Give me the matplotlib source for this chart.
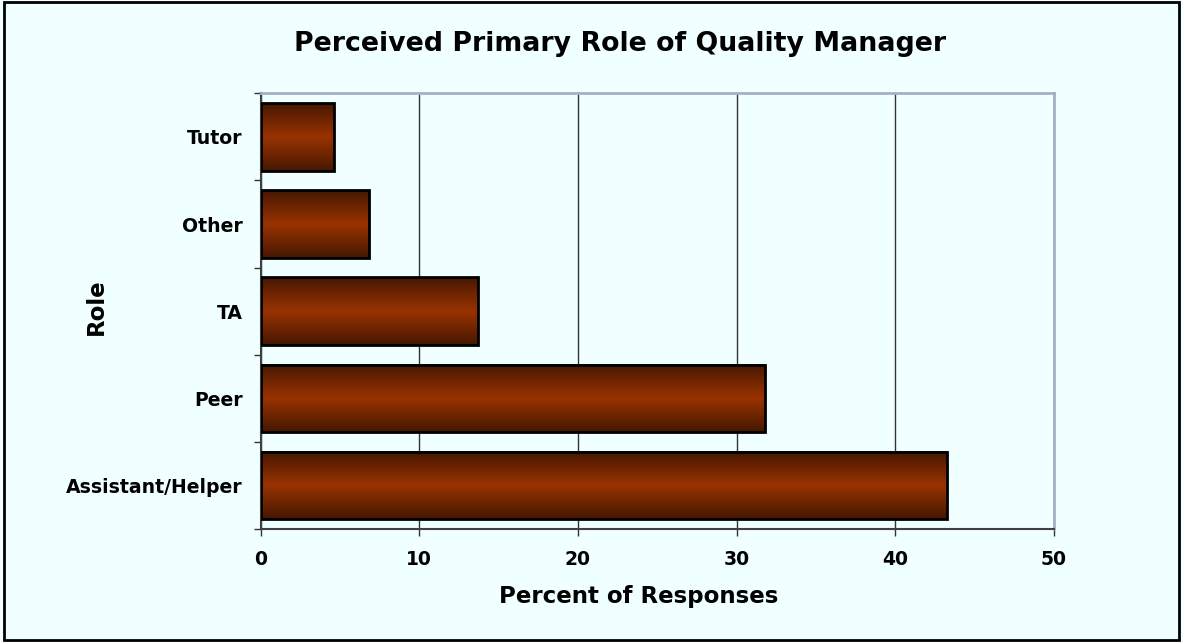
"""Perceived primary role of quality manager - horizontal bar chart."""

import matplotlib

matplotlib.use("Agg")
import matplotlib.pyplot as plt
import numpy as np
from matplotlib.colors import LinearSegmentedColormap
from matplotlib.patches import Rectangle

roles = ["Assistant/Helper", "Peer", "TA", "Other", "Tutor"]
percent = [43.3, 31.8, 13.7, 6.8, 4.6]
x_ticks = [0, 10, 20, 30, 40, 50]

BG = "#f0ffff"

plt.rcParams["font.family"] = ["DejaVu Sans"]
plt.rcParams["font.weight"] = "bold"

fig = plt.figure(figsize=(11.83, 6.42), dpi=100, facecolor=BG)
ax = fig.add_axes([0.2204, 0.176, 0.6703, 0.6787], facecolor=BG)

# outer chart border
fig.patches.append(
    Rectangle((0.0035, 0.003), 0.993, 0.994, transform=fig.transFigure,
              fill=False, edgecolor="black", linewidth=2)
)

# bars with vertical dark-light-dark gradient
bar_cmap = LinearSegmentedColormap.from_list(
    "brown_grad", ["#451700", "#993300", "#451700"]
)
grad = np.linspace(0, 1, 256).reshape(-1, 1)
bar_h = 0.775
y_pos = np.arange(len(roles))
for y, v in zip(y_pos, percent):
    ax.imshow(grad, extent=[0, v, y - bar_h / 2, y + bar_h / 2],
              aspect="auto", cmap=bar_cmap, zorder=2, interpolation="bilinear")
ax.barh(y_pos, percent, height=bar_h, fill=False, edgecolor="black",
        linewidth=2, zorder=3)

ax.set_xlim(0, 50)
ax.set_ylim(-0.5, len(roles) - 0.5)

# gridlines
ax.set_xticks(x_ticks)
ax.xaxis.grid(True, color="#333333", linewidth=1)
ax.set_axisbelow(True)

# y ticks at category boundaries, labels centred on bars
ax.set_yticks(np.arange(-0.5, len(roles), 1.0))
ax.set_yticklabels([])
ax.set_yticks(y_pos, minor=True)
ax.set_yticklabels(roles, minor=True, fontsize=13.6, fontweight="bold")
ax.tick_params(axis="y", which="minor", length=0, pad=13)
ax.tick_params(axis="y", which="major", length=5, width=1, color="#333333")
ax.tick_params(axis="x", length=5, width=1, color="#333333", pad=10,
               labelsize=13.5)
for lab in ax.get_xticklabels():
    lab.set_fontweight("bold")

for side in ("left", "bottom"):
    ax.spines[side].set_color("#404040")
    ax.spines[side].set_linewidth(1.5)
for side in ("top", "right"):
    ax.spines[side].set_color("#a6b0c4")
    ax.spines[side].set_linewidth(2)

ax.set_xlabel("Percent of Responses", fontsize=16.5, fontweight="bold")
ax.xaxis.set_label_coords(0.4764, -0.156)
ax.xaxis.label.set_va("center")
ax.set_ylabel("Role", fontsize=16.5, fontweight="bold")
ax.yaxis.set_label_coords(-0.207, 0.51)
ax.yaxis.label.set_va("center")

fig.text(0.524, 0.932, "Perceived Primary Role of Quality Manager",
         ha="center", va="center", fontsize=19.3, fontweight="bold")

fig.savefig("out.png", dpi=100, facecolor=BG)
